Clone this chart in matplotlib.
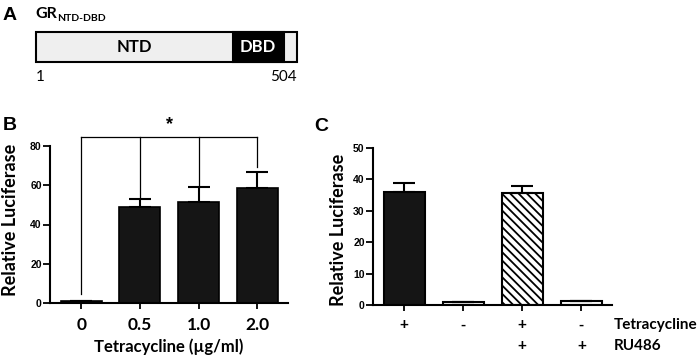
import numpy as np
import matplotlib
matplotlib.use("Agg")
import matplotlib.pyplot as plt

# ---- data ----
# panel A: construct map (residue numbers)
gr_start, gr_end = 1, 504
dbd_start, dbd_end = 380, 478

# panel B: dose response
b_labels = ["0", "0.5", "1.0", "2.0"]
b_means = [1.0, 49.1, 51.5, 58.4]
b_err = [0.0, 4.1, 7.5, 8.5]
b_bracket_level = 84.6
b_bracket_drops = [4.6, 53.5, 59.0, 69.5]

# panel C: tetracycline / RU486
c_means = [36.0, 1.0, 35.6, 1.2]
c_err = [2.7, 0.0, 2.4, 0.0]
c_tet = ["+", "-", "+", "-"]
c_ru = ["", "", "+", "+"]

W, H = 700, 356
lab_font = "Lato"
num_font = "Liberation Sans"
plt.rcParams["hatch.linewidth"] = 1.3


def box(left, top, right, bottom):
    return [left / W, (H - bottom) / H, (right - left) / W, (bottom - top) / H]


fig = plt.figure(figsize=(7, 3.56), dpi=100)
fig.patch.set_facecolor("white")

# ---- panel A ----
axA = fig.add_axes(box(36, 32, 297, 62))
axA.barh(0.5, gr_end - gr_start, left=gr_start, height=1, color="#efefef",
         edgecolor="black", linewidth=1.5, clip_on=False)
axA.barh(0.5, dbd_end - dbd_start, left=dbd_start, height=1, color="black",
         edgecolor="black", linewidth=1.5, clip_on=False)
axA.set_xlim(gr_start, gr_end)
axA.set_ylim(0, 1)
axA.axis("off")
axA.text((gr_start + dbd_start) / 2, 0.5, "NTD", ha="center", va="center",
         fontsize=12, fontweight="bold", family=lab_font)
axA.text((dbd_start + dbd_end) / 2, 0.5, "DBD", ha="center", va="center",
         fontsize=12, fontweight="bold", family=lab_font, color="white")
axA.text(gr_start, -0.5, str(gr_start), ha="left", va="center",
         fontsize=11, family=lab_font)
axA.text(gr_end, -0.5, str(gr_end), ha="right", va="center",
         fontsize=11, family=lab_font)

fig.text(10 / W, 1 - 15 / H, "A", ha="center", va="center", fontsize=14,
         fontweight="bold", family=num_font)
gr = fig.text(35 / W, 1 - 18 / H, "GR", ha="left", va="baseline", fontsize=11.5,
              fontweight="bold", family=lab_font)
fig.canvas.draw()
bb = gr.get_window_extent()
fig.text(bb.x1 / W, 1 - 21 / H, "NTD-DBD", ha="left", va="baseline", fontsize=7.5,
         fontweight="bold", family=lab_font)


def style_axis(ax, ymax, ystep):
    ax.set_ylim(0, ymax)
    ax.set_xlim(-0.53, 3.52)
    ax.set_yticks(np.arange(0, ymax + 1, ystep))
    for s in ["top", "right"]:
        ax.spines[s].set_visible(False)
    for s in ["left", "bottom"]:
        ax.spines[s].set_linewidth(1.5)
    ax.tick_params(axis="y", length=5, width=1.3, pad=1, labelsize=7.5)
    ax.tick_params(axis="x", length=4, width=1.3)
    for t in ax.get_yticklabels():
        t.set_fontfamily(num_font)
        t.set_fontweight("bold")
    ax.set_ylabel("Relative Luciferase", fontsize=13, fontweight="bold",
                  family=lab_font, va="center")


# ---- panel B ----
axB = fig.add_axes(box(50, 146, 288, 303))
xb = np.arange(len(b_means))
axB.bar(xb, b_means, width=0.7, color="#151515", edgecolor="black", linewidth=1.2)
axB.errorbar(xb, b_means, yerr=[np.zeros(len(b_err)), b_err], fmt="none",
             ecolor="black", elinewidth=1.5, capsize=8, capthick=1.5)
style_axis(axB, 80, 20)
axB.set_xticks(xb)
axB.set_xticklabels(b_labels, fontsize=12.5, fontweight="bold", family=lab_font)
axB.tick_params(axis="x", pad=6)
axB.set_xlabel("Tetracycline (\u00b5g/ml)", fontsize=12, fontweight="bold",
               family=lab_font, labelpad=4)
axB.yaxis.set_label_coords(-0.165, 0.53)
# significance bracket
axB.plot([xb[0], xb[-1]], [b_bracket_level, b_bracket_level], color="black",
         lw=0.9, clip_on=False)
for x, d in zip(xb, b_bracket_drops):
    axB.plot([x, x], [d, b_bracket_level], color="black", lw=0.9, clip_on=False)
axB.text(1.5, b_bracket_level + 2, "*", ha="center", va="bottom", fontsize=13,
         fontweight="bold", family=num_font)
fig.text(10 / W, 1 - 126 / H, "B", ha="center", va="center", fontsize=14,
         fontweight="bold", family=num_font)

# ---- panel C ----
axC = fig.add_axes(box(373, 148, 612, 305))
xc = np.arange(len(c_means))
fills = ["#151515", "white", "white", "white"]
hatches = [None, None, "\\\\\\\\", None]
for x, m, f, h in zip(xc, c_means, fills, hatches):
    axC.bar(x, m, width=0.7, color=f, edgecolor="black", linewidth=1.5, hatch=h)
axC.errorbar(xc, c_means, yerr=[np.zeros(len(c_err)), c_err], fmt="none",
             ecolor="black", elinewidth=1.5, capsize=8, capthick=1.5)
style_axis(axC, 50, 10)
axC.set_xticks(xc)
axC.set_xticklabels([])
axC.yaxis.set_label_coords(-0.146, 0.48)
tr = axC.get_xaxis_transform()
for x, a, b in zip(xc, c_tet, c_ru):
    axC.text(x, -0.125, a, transform=tr, ha="center", va="center", fontsize=11,
             fontweight="bold", family=num_font)
    axC.text(x, -0.262, b, transform=tr, ha="center", va="center", fontsize=11,
             fontweight="bold", family=num_font)
axC.text(1.008, -0.125, "Tetracycline", transform=axC.transAxes, ha="left",
         va="center", fontsize=11, fontweight="bold", family=lab_font)
axC.text(1.008, -0.262, "RU486", transform=axC.transAxes, ha="left",
         va="center", fontsize=11, fontweight="bold", family=lab_font)
fig.text(321 / W, 1 - 127 / H, "C", ha="center", va="center", fontsize=14,
         fontweight="bold", family=num_font)

fig.savefig("out.png", dpi=100)
